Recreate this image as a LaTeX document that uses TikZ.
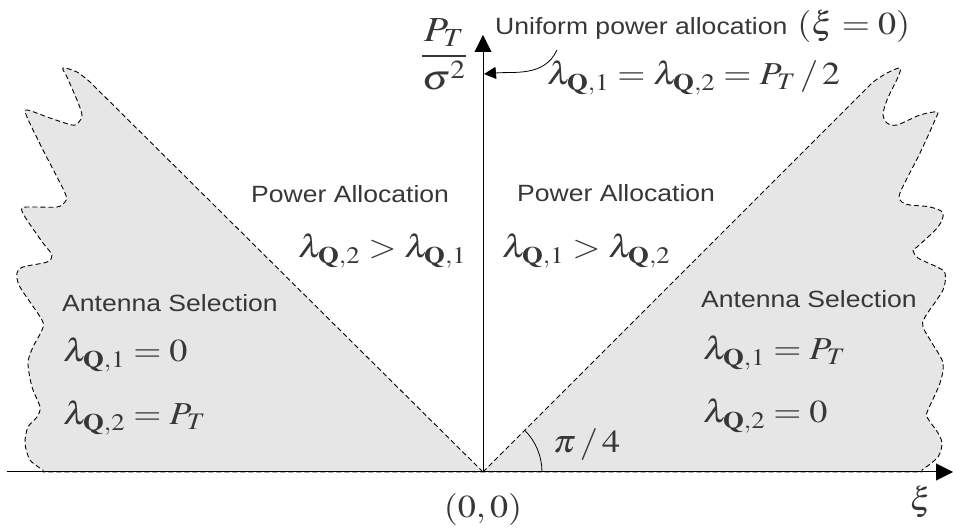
\documentclass[tikz,border=0pt]{standalone}
\usepackage{amsmath}
\usepackage{mathptmx}
\usepackage[no-math]{fontspec}
\setsansfont{Liberation Sans}
\usepackage{graphicx}
\usepackage{tikz}
\usetikzlibrary{arrows.meta}
\definecolor{selGray}{RGB}{230,230,230}
\definecolor{lblGray}{RGB}{55,55,55}
\newcommand{\lamQ}[1]{\lambda_{\mathbf{Q},#1}}
\newcommand{\sanstxt}[1]{\scalebox{1.13}[1]{\fontsize{23.5}{28}\selectfont\sffamily #1}}
\newcommand{\mathtxt}[1]{\scalebox{1.13}[1]{\fontsize{32}{38}\selectfont $#1$}}

\begin{document}
\begin{tikzpicture}[x=1pt,y=1pt,
    lbl/.style={inner sep=0pt, text=lblGray, anchor=base west},
    region/.style={fill=selGray, draw=black, line width=0.9pt, dash pattern=on 5pt off 3pt},
    axis/.style={line width=1pt, -{Triangle[length=17pt,width=17pt]}}]
    \useasboundingbox (-483,-60) rectangle (470,472);

    \coordinate (O) at (0,0);
    \coordinate (xL) at (-476,0);
    \coordinate (xR) at (470,0);
    \coordinate (yT) at (0,437);

    % antenna selection regions
    \path[region] (O) -- (-393,390) -- plot[smooth, tension=0.5] coordinates {
        (-393,390) (-406,400) (-420,404) (-416,395) (-406,372) (-401,357) (-405,349)
        (-411,347) (-433,354) (-456,362) (-456,355) (-440,322) (-418,279) (-418,270)
        (-426,265) (-450,265) (-461,264) (-458,255) (-440,229) (-431,217) (-436,210)
        (-460,205) (-466,199) (-463,185) (-441,152) (-441,142) (-450,125) (-455,109)
        (-451,85) (-443,65) (-446,55) (-455,45) (-458,29) (-453,12) (-440,2)}
        -- (-440,0) -- cycle;
    \path[region] (O) -- (390,390) -- plot[smooth, tension=0.5] coordinates {
        (390,390) (404,399) (417,404) (415,395) (404,372) (400,357) (404,349)
        (414,347) (437,357) (454,360) (452,352) (437,319) (417,279) (419,270)
        (427,267) (447,265) (460,259) (455,245) (434,225) (430,222) (435,214)
        (454,205) (462,199) (460,182) (442,155) (440,145) (449,129) (460,109)
        (457,89) (445,62) (444,55) (455,39) (459,29) (455,15) (439,2)}
        -- (439,0) -- cycle;

    % axes
    \draw[axis] (xL) -- (xR);
    \draw[axis] (O) -- (yT);
    \node[lbl, anchor=center] (tXi) at (438,-30) {\mathtxt{\xi}};
    \node[lbl, anchor=center] (tFrac) at (-39,418) {\scalebox{1.1}{\mathtxt{\displaystyle\frac{P_T}{\sigma^2}}}};
    \node[lbl, anchor=base] (tOrigin) at (0,-46) {\mathtxt{(0,0)}};

    % angle of the boundary
    \draw[line width=0.8pt] (59,0) arc[start angle=0, end angle=45, radius=59];
    \node[lbl] (tAngle) at (70,19) {\mathtxt{\pi\,/\,4}};

    % uniform power allocation
    \node[lbl] (tUni) at (12,437) {\sanstxt{Uniform power allocation}\hspace{10pt}\mathtxt{(\xi = 0)}};
    \node[lbl] (tEqual) at (64,387) {\mathtxt{\lamQ{1} = \lamQ{2} = P_T\,/\,2}};
    \coordinate (uTail) at (74,422);
    \coordinate (uHead) at (1,398);
    \draw[line width=0.8pt, -{Triangle[length=12pt,width=12pt]}] (uTail) to[out=-115, in=5] (uHead);

    % power allocation
    \node[lbl] (tPALeft) at (-232,269) {\sanstxt{Power Allocation}};
    \node[lbl] (tPARight) at (34,270) {\sanstxt{Power Allocation}};
    \node[lbl] (tIneqL) at (-185,214) {\mathtxt{\lamQ{2} > \lamQ{1}}};
    \node[lbl] (tIneqR) at (19,214) {\mathtxt{\lamQ{1} > \lamQ{2}}};

    % antenna selection
    \node[lbl] (tASLeft) at (-421,160) {\sanstxt{Antenna Selection}};
    \node[lbl] (tL1Left) at (-420,110) {\mathtxt{\lamQ{1} = 0}};
    \node[lbl] (tL2Left) at (-420,47) {\mathtxt{\lamQ{2} = P_T}};
    \node[lbl] (tASRight) at (218,164) {\sanstxt{Antenna Selection}};
    \node[lbl] (tL1Right) at (220,112) {\mathtxt{\lamQ{1} = P_T}};
    \node[lbl] (tL2Right) at (220,49) {\mathtxt{\lamQ{2} = 0}};
\end{tikzpicture}
\end{document}
